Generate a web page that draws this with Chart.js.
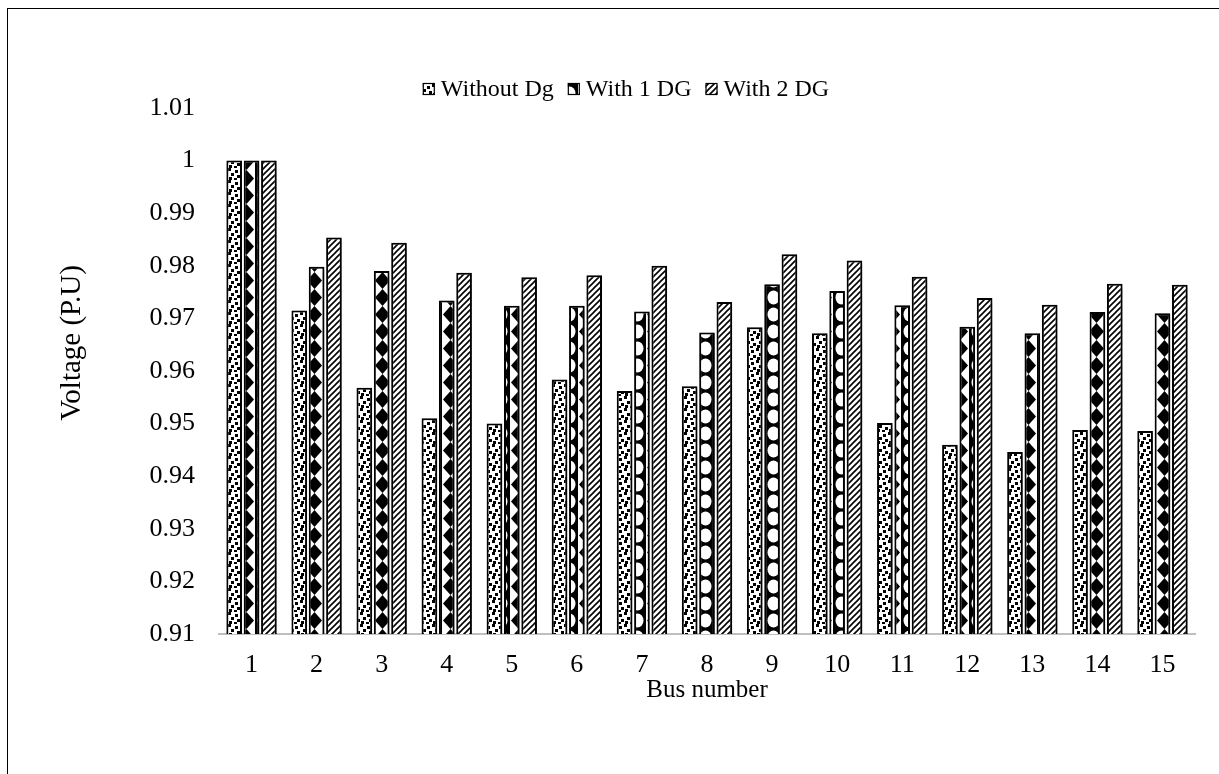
<!DOCTYPE html>
<html>
<head>
<meta charset="utf-8">
<title>Bus voltage profile</title>
<script src="https://cdn.jsdelivr.net/npm/chart.js@4.4.1/dist/chart.umd.min.js"></script>
<style>
  html, body { margin: 0; padding: 0; background: #fff; }
  #wrap { position: relative; width: 1219px; height: 774px; overflow: hidden; }
  #frame { position: absolute; left: 7px; top: 8px; width: 1260px; height: 820px;
           border-left: 1.5px solid #000; border-top: 1.5px solid #000; }
  #c { position: absolute; left: 0; top: 0; }
</style>
</head>
<body>
<div id="wrap">
  <div id="frame"></div>
  <canvas id="c" width="1219" height="774"></canvas>
</div>
<script>
// Bus voltages (per unit) for the three cases
const busNumbers = ['1','2','3','4','5','6','7','8','9','10','11','12','13','14','15'];
const withoutDg = [1.000, 0.9715, 0.9568, 0.9510, 0.9500, 0.9584, 0.9562, 0.9571, 0.9683, 0.9672, 0.9501, 0.9460, 0.9446, 0.9488, 0.9486];
const with1DG   = [1.000, 0.9798, 0.9790, 0.9734, 0.9724, 0.9724, 0.9713, 0.9673, 0.9765, 0.9752, 0.9725, 0.9684, 0.9672, 0.9712, 0.9710];
const with2DG   = [1.000, 0.9854, 0.9844, 0.9787, 0.9778, 0.9782, 0.9800, 0.9731, 0.9822, 0.9810, 0.9779, 0.9739, 0.9726, 0.9766, 0.9764];
const seriesNames = ['Without Dg', 'With 1 DG', 'With 2 DG'];
const yTickValues = [0.91, 0.92, 0.93, 0.94, 0.95, 0.96, 0.97, 0.98, 0.99, 1.00, 1.01];

const FONT = '"Liberation Serif", "Times New Roman", serif';

// --- monochrome fill patterns -------------------------------------------
function makeTile(w, h, paint) {
  const t = document.createElement('canvas');
  t.width = w; t.height = h;
  const g = t.getContext('2d');
  paint(g, w, h);
  return t;
}

// scattered small squares on white
const confettiTile = makeTile(12, 12, (g, w, h) => {
  g.fillStyle = '#fff'; g.fillRect(0, 0, w, h);
  g.fillStyle = '#000';
  [[0,0],[7,2],[3,5],[9,7],[1,9],[6,10]].forEach(([x, y]) => g.fillRect(x, y, 3, 3));
});

// black diamonds on white beside white rounds on black
const sphereTile = makeTile(34, 17, (g, w, h) => {
  g.fillStyle = '#fff'; g.fillRect(0, 0, w, h);
  g.fillStyle = '#000';
  g.beginPath();
  g.moveTo(8.5, 0); g.lineTo(16, 8.5); g.lineTo(8.5, 17); g.lineTo(1, 8.5); g.closePath();
  g.fill();
  g.fillRect(17, 0, 17, 17);
  g.fillStyle = '#fff';
  g.beginPath(); g.ellipse(25.5, 8.5, 6, 7, 0, 0, Math.PI * 2); g.fill();
});

// upward diagonal hatching
const hatchTile = makeTile(6, 6, (g, w, h) => {
  g.fillStyle = '#fff'; g.fillRect(0, 0, w, h);
  g.strokeStyle = '#000'; g.lineWidth = 1.6;
  g.beginPath();
  g.moveTo(-1, h + 1); g.lineTo(w + 1, -1);
  g.moveTo(-1, 1); g.lineTo(1, -1);
  g.moveTo(w - 1, h + 1); g.lineTo(w + 1, h - 1);
  g.stroke();
});

const ctx = document.getElementById('c').getContext('2d');
const fills = [
  ctx.createPattern(confettiTile, 'repeat'),
  ctx.createPattern(sphereTile, 'repeat'),
  ctx.createPattern(hatchTile, 'repeat')
];

// soft drop shadow behind the bars
const barShadow = {
  id: 'barShadow',
  beforeDatasetsDraw(chart) {
    const c = chart.ctx;
    c.save();
    c.shadowColor = 'rgba(0,0,0,0.45)';
    c.shadowBlur = 5;
    c.shadowOffsetX = 2;
    c.shadowOffsetY = 2;
  },
  afterDatasetsDraw(chart) { chart.ctx.restore(); }
};

// one-line legend with patterned swatches above the plot
const patternLegend = {
  id: 'patternLegend',
  afterDraw(chart, args, opts) {
    const c = chart.ctx;
    c.save();
    c.font = opts.fontSize + 'px ' + FONT;
    c.textBaseline = 'middle';
    const items = chart.data.datasets.map(ds => ({ label: ds.label, fill: ds.backgroundColor, w: c.measureText(ds.label).width }));
    const total = items.reduce((s, it) => s + opts.box + opts.textGap + it.w, 0) + opts.itemGap * (items.length - 1);
    let x = opts.centerX - total / 2;
    const y = opts.centerY;
    items.forEach(it => {
      c.fillStyle = it.fill;
      c.fillRect(x, y - opts.box / 2, opts.box, opts.box);
      c.strokeStyle = '#000'; c.lineWidth = 1.2;
      c.strokeRect(x + 0.5, y - opts.box / 2 + 0.5, opts.box - 1, opts.box - 1);
      c.fillStyle = '#000';
      c.fillText(it.label, x + opts.box + opts.textGap, y + 1);
      x += opts.box + opts.textGap + it.w + opts.itemGap;
    });
    c.restore();
  }
};

// rotated value-axis caption
const valueAxisCaption = {
  id: 'valueAxisCaption',
  afterDraw(chart, args, opts) {
    const c = chart.ctx;
    c.save();
    c.translate(opts.x, opts.y);
    c.rotate(-Math.PI / 2);
    c.font = opts.fontSize + 'px ' + FONT;
    c.fillStyle = '#000';
    c.textAlign = 'center';
    c.textBaseline = 'middle';
    c.fillText(opts.text, 0, 0);
    c.restore();
  }
};

const seriesValues = [withoutDg, with1DG, with2DG];

new Chart(ctx, {
  type: 'bar',
  data: {
    labels: busNumbers,
    datasets: seriesNames.map((name, i) => ({
      label: name,
      data: seriesValues[i],
      backgroundColor: fills[i],
      borderColor: '#000',
      borderWidth: 2,
      barPercentage: 0.9,
      categoryPercentage: 0.8
    }))
  },
  options: {
    responsive: false,
    animation: false,
    layout: { padding: { left: 40, right: 24, top: 108, bottom: 0 } },
    plugins: {
      legend: { display: false },
      tooltip: { enabled: false },
      patternLegend: { centerX: 626, centerY: 89, box: 12, textGap: 6, itemGap: 14, fontSize: 24 },
      valueAxisCaption: { text: 'Voltage (P.U)', x: 72, y: 343, fontSize: 29 }
    },
    scales: {
      x: {
        grid: { display: false, drawTicks: false },
        border: { display: true, color: '#bfbfbf', width: 2 },
        ticks: { color: '#000', font: { family: FONT, size: 26 }, padding: 16, maxRotation: 0 },
        title: { display: true, text: 'Bus number', color: '#000', font: { family: FONT, size: 25 }, padding: { top: 0, bottom: 69 } },
        afterFit(scale) { scale.height = 140; }
      },
      y: {
        min: yTickValues[0],
        max: yTickValues[yTickValues.length - 1],
        afterBuildTicks(scale) { scale.ticks = yTickValues.map(v => ({ value: v })); },
        grid: { display: false, drawTicks: false },
        border: { display: false },
        ticks: {
          color: '#000', font: { family: FONT, size: 26 }, padding: 24,
          callback: v => String(Number(Number(v).toFixed(2)))
        },
        title: { display: false },
        afterFit(scale) { scale.width = 179; }
      }
    }
  },
  plugins: [barShadow, patternLegend, valueAxisCaption]
});
</script>
</body>
</html>
